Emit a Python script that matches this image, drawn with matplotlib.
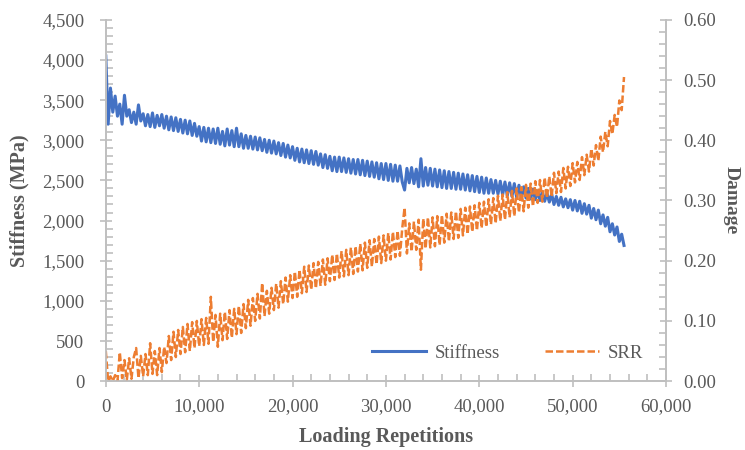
import matplotlib.pyplot as plt
import numpy as np
from matplotlib.ticker import MultipleLocator, FuncFormatter

# Data (one value every 250 loading repetitions)
step = 250
stiffness = [
    4050, 3200, 3650, 3350, 3550, 3300, 3450, 3200, 3560, 3300, 3380, 3220,
    3350, 3200, 3440, 3240, 3330, 3180, 3320, 3170, 3340, 3160, 3310, 3180,
    3320, 3150, 3300, 3130, 3290, 3120, 3280, 3110, 3260, 3090, 3250, 3080,
    3240, 3060, 3210, 3050, 3170, 2990, 3160, 2980, 3150, 2970, 3140, 2960,
    3150, 2950, 3110, 2930, 3140, 2940, 3120, 2920, 3150, 2920, 3080, 2900,
    3060, 2900, 3050, 2890, 3040, 2880, 3030, 2870, 3010, 2850, 3000, 2840,
    2990, 2830, 2970, 2810, 2960, 2790, 2940, 2780, 2920, 2750, 2900, 2730,
    2890, 2720, 2880, 2710, 2870, 2700, 2860, 2690, 2830, 2660, 2820, 2650,
    2800, 2620, 2790, 2610, 2790, 2610, 2780, 2600, 2770, 2590, 2760, 2580,
    2760, 2570, 2750, 2560, 2740, 2550, 2730, 2540, 2720, 2520, 2710, 2510,
    2710, 2500, 2700, 2490, 2690, 2490, 2680, 2480, 2380, 2650, 2470, 2660,
    2460, 2640, 2420, 2770, 2430, 2660, 2440, 2650, 2430, 2640, 2420, 2630,
    2410, 2620, 2400, 2610, 2400, 2600, 2390, 2590, 2390, 2580, 2380, 2570,
    2370, 2560, 2360, 2550, 2350, 2540, 2340, 2530, 2340, 2510, 2340, 2500,
    2330, 2490, 2320, 2480, 2310, 2470, 2300, 2460, 2290, 2440, 2290, 2420,
    2280, 2400, 2270, 2390, 2260, 2370, 2250, 2360, 2240, 2340, 2230, 2330,
    2200, 2300, 2190, 2290, 2170, 2270, 2160, 2260, 2130, 2250, 2120, 2240,
    2090, 2210, 2080, 2190, 2030, 2150, 2010, 2130, 1960, 2070, 1930, 2040,
    1860, 1960, 1820, 1920, 1740, 1830, 1690,
]
srr = [
    0.050, 0.000, 0.008, 0.000, 0.010, 0.000, 0.048, 0.005, 0.035, 0.002, 0.038, 0.004,
    0.040, 0.055, 0.005, 0.042, 0.008, 0.045, 0.010, 0.063, 0.012, 0.050, 0.010, 0.055,
    0.015, 0.057, 0.030, 0.075, 0.035, 0.082, 0.040, 0.085, 0.045, 0.090, 0.048, 0.095,
    0.050, 0.098, 0.055, 0.100, 0.058, 0.103, 0.060, 0.105, 0.062, 0.140, 0.065, 0.110,
    0.057, 0.112, 0.068, 0.115, 0.070, 0.118, 0.072, 0.120, 0.078, 0.125, 0.080, 0.128,
    0.088, 0.135, 0.092, 0.138, 0.100, 0.145, 0.104, 0.163, 0.108, 0.150, 0.112, 0.155,
    0.118, 0.162, 0.122, 0.166, 0.128, 0.172, 0.132, 0.176, 0.138, 0.182, 0.140, 0.185,
    0.146, 0.190, 0.148, 0.192, 0.152, 0.196, 0.154, 0.198, 0.158, 0.202, 0.160, 0.204,
    0.166, 0.210, 0.168, 0.212, 0.172, 0.216, 0.174, 0.218, 0.176, 0.222, 0.178, 0.224,
    0.182, 0.228, 0.184, 0.230, 0.188, 0.234, 0.190, 0.236, 0.194, 0.240, 0.196, 0.242,
    0.200, 0.246, 0.202, 0.248, 0.206, 0.250, 0.208, 0.254, 0.288, 0.212, 0.262, 0.215,
    0.265, 0.218, 0.268, 0.185, 0.270, 0.220, 0.272, 0.222, 0.272, 0.224, 0.274, 0.226,
    0.276, 0.230, 0.278, 0.232, 0.280, 0.236, 0.282, 0.238, 0.286, 0.242, 0.288, 0.244,
    0.290, 0.248, 0.292, 0.250, 0.296, 0.254, 0.298, 0.256, 0.302, 0.260, 0.304, 0.262,
    0.308, 0.266, 0.310, 0.268, 0.314, 0.272, 0.316, 0.274, 0.320, 0.280, 0.322, 0.282,
    0.326, 0.288, 0.328, 0.290, 0.332, 0.296, 0.334, 0.298, 0.338, 0.304, 0.340, 0.306,
    0.346, 0.312, 0.348, 0.314, 0.354, 0.320, 0.356, 0.324, 0.362, 0.330, 0.364, 0.334,
    0.372, 0.342, 0.376, 0.348, 0.386, 0.358, 0.392, 0.366, 0.406, 0.380, 0.414, 0.390,
    0.432, 0.410, 0.442, 0.422, 0.466, 0.450, 0.505,
]
repetitions = np.arange(len(stiffness)) * step

plt.rcParams['font.family'] = ['Liberation Serif', 'DejaVu Serif']
grey = '#BFBFBF'
text_grey = '#595959'

fig, ax = plt.subplots(figsize=(7.45, 4.5), dpi=100)
fig.subplots_adjust(left=0.142, right=0.894, top=0.956, bottom=0.153)
ax2 = ax.twinx()

l1, = ax.plot(repetitions, stiffness, color='#4472C4', lw=2.2, label='Stiffness')
l2, = ax2.plot(repetitions, srr, color='#ED7D31', lw=1.8, linestyle=(0, (3, 1.2)), label='SRR')

ax.set_xlim(0, 60000)
ax.set_ylim(0, 4500)
ax2.set_ylim(0, 0.6)

ax.xaxis.set_major_locator(MultipleLocator(10000))
ax.xaxis.set_minor_locator(MultipleLocator(2000))
ax.yaxis.set_major_locator(MultipleLocator(500))
ax.yaxis.set_minor_locator(MultipleLocator(100))
ax2.yaxis.set_major_locator(MultipleLocator(0.1))
ax2.yaxis.set_minor_locator(MultipleLocator(0.02))
ax.xaxis.set_major_formatter(FuncFormatter(lambda v, p: f'{v:,.0f}'))
ax.yaxis.set_major_formatter(FuncFormatter(lambda v, p: f'{v:,.0f}'))
ax2.yaxis.set_major_formatter(FuncFormatter(lambda v, p: f'{v:.2f}'))

for a in (ax, ax2):
    for s in a.spines.values():
        s.set_color(grey)
        s.set_linewidth(1.2)
    a.spines['top'].set_visible(False)
    a.tick_params(which='major', direction='inout', length=9, width=1.2, color=grey,
                  labelsize=13.5, labelcolor=text_grey)
    a.tick_params(which='minor', direction='in', length=5, width=1.2, color=grey)
ax.tick_params(axis='x', which='major', pad=8)
ax.tick_params(axis='y', which='major', pad=11)
ax2.tick_params(axis='y', which='major', pad=8)

ax.set_xlabel('Loading Repetitions', fontsize=14.5, fontweight='bold', color=text_grey, labelpad=8)
ax.set_ylabel('Stiffness (MPa)', fontsize=14.5, fontweight='bold', color=text_grey, labelpad=9)
ax2.set_ylabel('Damage', fontsize=14, fontweight='bold', color=text_grey, rotation=-90, labelpad=17)

ax.legend([l1, l2], ['Stiffness', 'SRR'], loc='center', bbox_to_anchor=(0.717, 0.078),
          ncol=2, frameon=False, fontsize=13.5, handlelength=2.9, handletextpad=0.45,
          columnspacing=2.4, labelcolor=text_grey)

plt.savefig('out.png')
